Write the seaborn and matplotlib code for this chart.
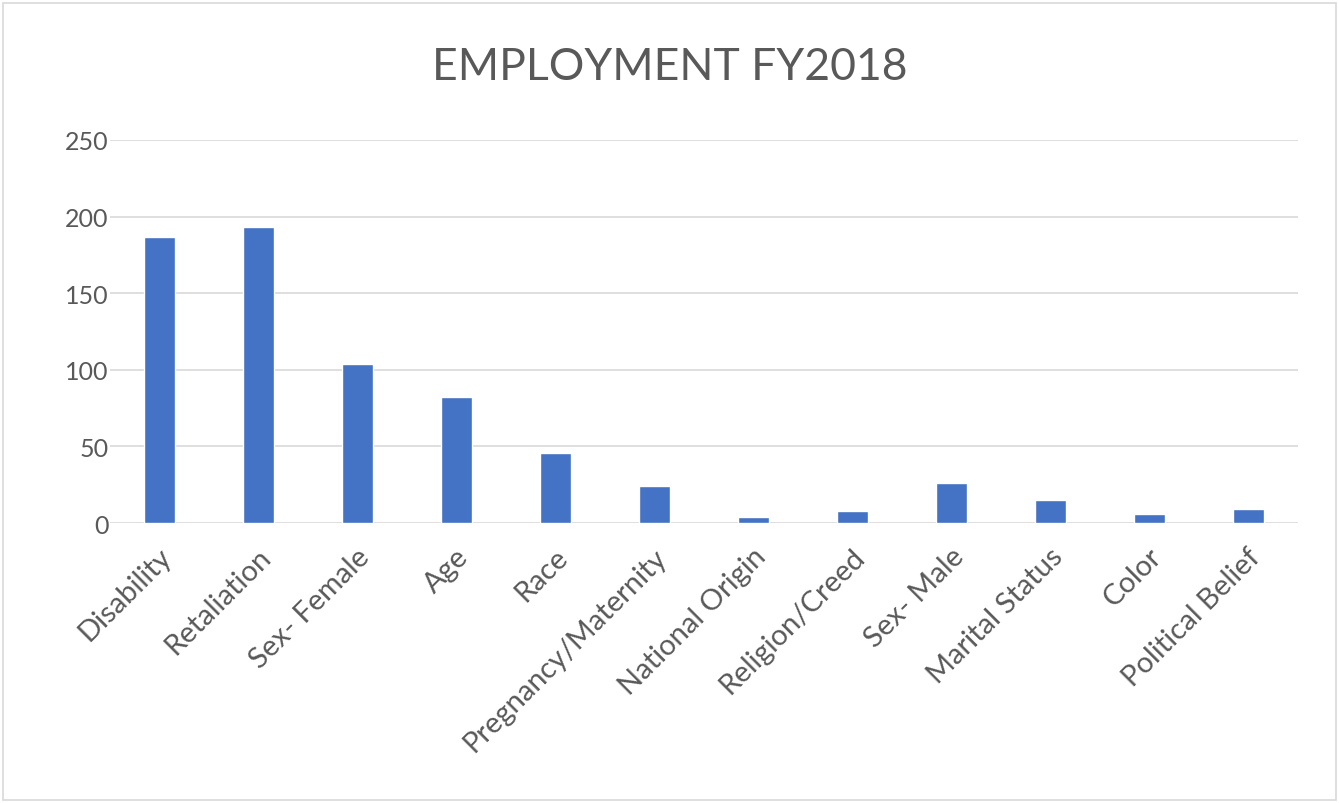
import matplotlib
matplotlib.use("Agg")
import matplotlib.pyplot as plt
import matplotlib.transforms as mtransforms
import seaborn as sns
import pandas as pd
from matplotlib.patches import Rectangle

categories = ["Disability", "Retaliation", "Sex- Female", "Age", "Race",
              "Pregnancy/Maternity", "National Origin", "Religion/Creed",
              "Sex- Male", "Marital Status", "Color", "Political Belief"]
counts = [187, 193, 104, 82, 46, 24, 4, 8, 26, 15, 6, 9]
yticks = [0, 50, 100, 150, 200, 250]
title = "EMPLOYMENT FY2018"

sns.set_theme(style="white")
plt.rcParams['font.family'] = ['Lato', 'DejaVu Sans']

df = pd.DataFrame({"category": categories, "count": counts})

fig = plt.figure(figsize=(13.39, 8.04), dpi=100)
ax = fig.add_axes([110/1339, 1-524/804, (1298-110)/1339, (524-141)/804])

sns.barplot(data=df, x="category", y="count", color="#4472C4", width=0.32,
            saturation=1, ax=ax, zorder=3)

ax.set_ylim(0, 250)
ax.set_yticks(yticks)
ax.set_xlim(-0.5, len(categories) - 0.5)
ax.yaxis.grid(True, color="#d9d9d9", linewidth=1.2, zorder=0)
ax.set_axisbelow(True)
for s in ax.spines.values():
    s.set_visible(False)
ax.set_xlabel("")
ax.set_ylabel("")
ax.tick_params(axis="both", length=0, colors="#595959")
ax.tick_params(axis="y", pad=1, labelsize=18)
ax.set_xticks(range(len(categories)))
ax.set_xticklabels(categories, rotation=45, ha="right", va="center",
                   rotation_mode="anchor", color="#595959", fontsize=21)
ax.tick_params(axis="x", pad=21)
offset = mtransforms.ScaledTranslation(8/100, 0, fig.dpi_scale_trans)
for lbl in ax.get_xticklabels():
    lbl.set_transform(lbl.get_transform() + offset)

fig.text(0.5, 1-68/804, title, ha="center", va="center", fontsize=32,
         color="#595959")

fig.patches.append(Rectangle((3/1339, 3/804), 1333/1339, 797/804,
                             transform=fig.transFigure, fill=False,
                             edgecolor="#d9d9d9", linewidth=1.2))

fig.savefig("out.png", dpi=100)
